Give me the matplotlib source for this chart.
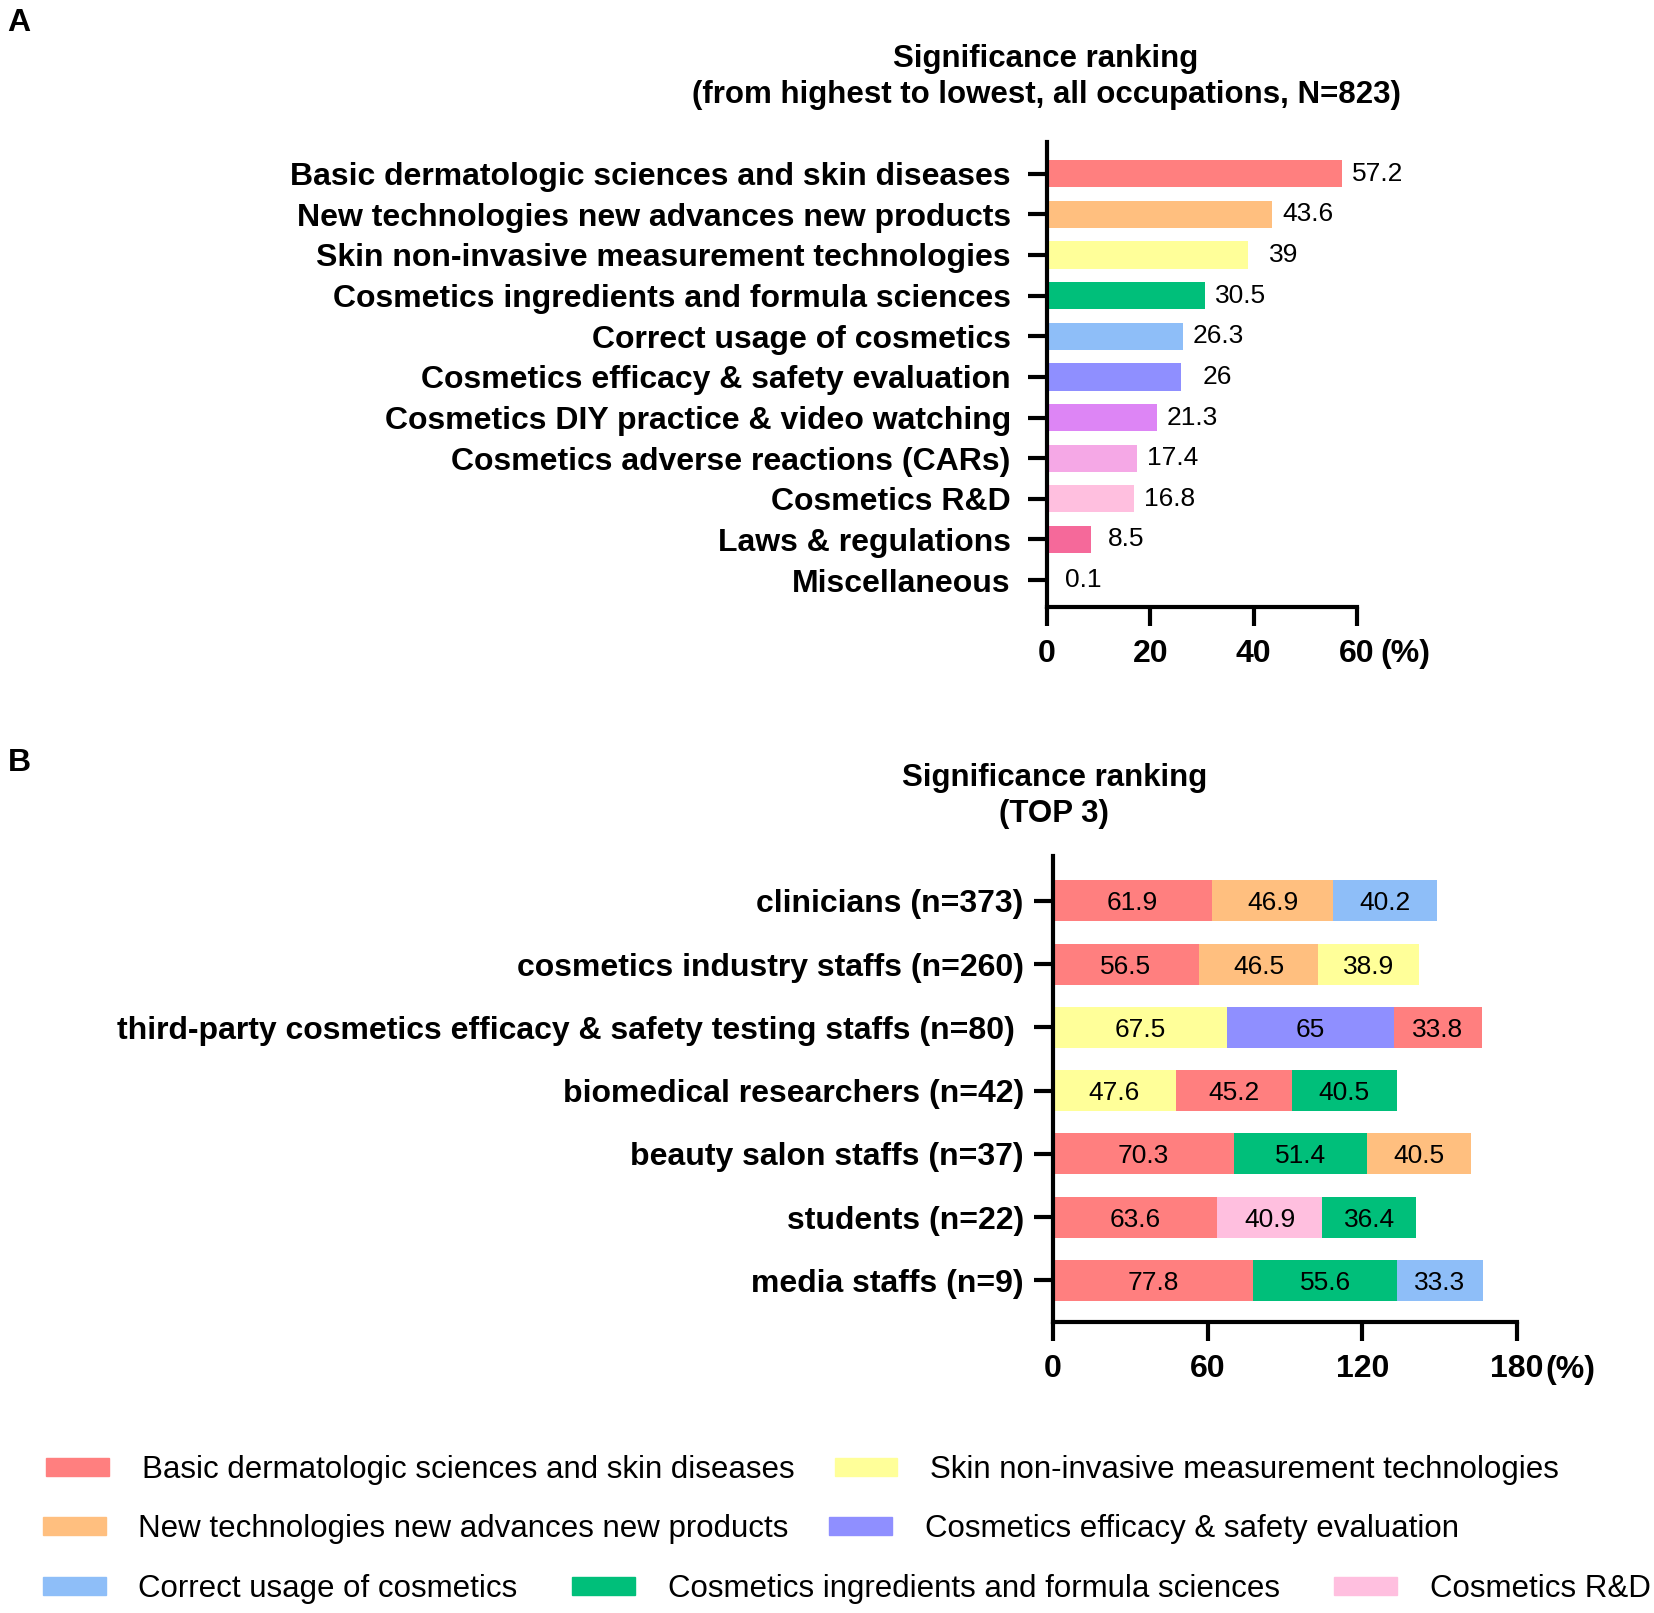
import matplotlib.pyplot as plt
from matplotlib.patches import Patch

plt.rcParams['font.family'] = ['Liberation Sans', 'DejaVu Sans']

# panel A data
topics = ['Basic dermatologic sciences and skin diseases',
          'New technologies new advances new products',
          'Skin non-invasive measurement technologies',
          'Cosmetics ingredients and formula sciences',
          'Correct usage of cosmetics',
          'Cosmetics efficacy & safety evaluation',
          'Cosmetics DIY practice & video watching',
          'Cosmetics adverse reactions (CARs)',
          'Cosmetics R&D',
          'Laws & regulations',
          'Miscellaneous']
values_a = [57.2, 43.6, 39, 30.5, 26.3, 26, 21.3, 17.4, 16.8, 8.5, 0.1]
labels_a = ['57.2', '43.6', '39', '30.5', '26.3', '26', '21.3', '17.4', '16.8', '8.5', '0.1']
colors = ['#FF7F7F', '#FFBF7F', '#FFFF99', '#00BF7A', '#8EBEF8', '#8F8FFF',
          '#DD85F5', '#F5A8E6', '#FFBFDF', '#F5699A', '#A0A0A0']
topic_color = dict(zip(topics, colors))

# panel B data (top 3 topics per occupation)
occupations = ['clinicians (n=373)',
               'cosmetics industry staffs (n=260)',
               'third-party cosmetics efficacy & safety testing staffs (n=80) ',
               'biomedical researchers (n=42)',
               'beauty salon staffs (n=37)',
               'students (n=22)',
               'media staffs (n=9)']
top1_topic = [topics[0], topics[0], topics[2], topics[2], topics[0], topics[0], topics[0]]
top1_val = [61.9, 56.5, 67.5, 47.6, 70.3, 63.6, 77.8]
top2_topic = [topics[1], topics[1], topics[5], topics[0], topics[3], topics[8], topics[3]]
top2_val = [46.9, 46.5, 65, 45.2, 51.4, 40.9, 55.6]
top3_topic = [topics[4], topics[2], topics[0], topics[3], topics[1], topics[3], topics[4]]
top3_val = [40.2, 38.9, 33.8, 40.5, 40.5, 36.4, 33.3]

legend_rows = [[topics[0], topics[2]],
               [topics[1], topics[5]],
               [topics[4], topics[3], topics[8]]]

LBL = 23
TTL = 22.5
VAL = 19
LW = 3

fig = plt.figure(figsize=(16.54, 16.13), dpi=100)


def style(ax, ypad):
    for s in ['top', 'right']:
        ax.spines[s].set_visible(False)
    for s in ['left', 'bottom']:
        ax.spines[s].set_linewidth(LW)
    ax.tick_params(axis='both', width=LW, length=14, labelsize=LBL)
    ax.tick_params(axis='y', pad=ypad)
    ax.tick_params(axis='x', pad=9)
    for t in ax.get_xticklabels() + ax.get_yticklabels():
        t.set_fontweight('bold')


# ---- A ----
ax_a = fig.add_axes([0.633, 0.6237, 0.1874, 0.2883])
ya = list(range(len(topics)))
ax_a.barh(ya, values_a, height=0.67, color=colors)
for i, v in enumerate(values_a):
    ax_a.text(v + 6.9, i, labels_a[i], ha='center', va='center', fontsize=VAL)
ax_a.set_xlim(0, 60)
ax_a.set_ylim(10.66, -0.78)
ax_a.set_xticks([0, 20, 40, 60])
ax_a.set_yticks(ya)
ax_a.set_yticklabels(topics)
style(ax_a, 12)

fig.text(0.6324, 0.9525, 'Significance ranking\n(from highest to lowest, all occupations, N=823)',
         ha='center', va='center', fontsize=TTL, fontweight='bold', linespacing=1.27)
fig.text(0.8348, 0.5945, '(%)', ha='left', va='center', fontsize=LBL, fontweight='bold')
fig.text(0.0115, 0.9857, 'A', ha='center', va='center', fontsize=LBL, fontweight='bold')

# ---- B ----
ax_b = fig.add_axes([0.6366, 0.1804, 0.2805, 0.2889])
yb = list(range(len(occupations)))
left = [0] * len(occupations)
for tps, vals in [(top1_topic, top1_val), (top2_topic, top2_val), (top3_topic, top3_val)]:
    ax_b.barh(yb, vals, left=left, height=0.65, color=[topic_color[t] for t in tps])
    for i, v in enumerate(vals):
        ax_b.text(left[i] + v / 2, i + 0.04, f'{v:g}', ha='center', va='center', fontsize=VAL)
    left = [l + v for l, v in zip(left, vals)]
ax_b.set_xlim(0, 180)
ax_b.set_ylim(6.66, -0.71)
ax_b.set_xticks([0, 60, 120, 180])
ax_b.set_yticks(yb)
ax_b.set_yticklabels(occupations)
style(ax_b, 7)

fig.text(0.6375, 0.5067, 'Significance ranking\n(TOP 3)', ha='center', va='center',
         fontsize=TTL, fontweight='bold', linespacing=1.27)
fig.text(0.9345, 0.1505, '(%)', ha='left', va='center', fontsize=LBL, fontweight='bold')
fig.text(0.0115, 0.527, 'B', ha='center', va='center', fontsize=LBL, fontweight='bold')

# ---- legend, one row at a time ----
row_y = [0.0888, 0.0522, 0.0150]
row_x = [0.028, 0.026, 0.026]
row_sp = [1.3, 1.3, 1.75]
for names, y, x, sp in zip(legend_rows, row_y, row_x, row_sp):
    handles = [Patch(color=topic_color[n]) for n in names]
    fig.legend(handles, names, loc='center left', bbox_to_anchor=(x, y), ncol=len(names),
               frameon=False, fontsize=22.5, handlelength=2.0, handleheight=0.5,
               handletextpad=1.05, columnspacing=sp, borderpad=0, borderaxespad=0)

fig.savefig('out.png', dpi=100)
